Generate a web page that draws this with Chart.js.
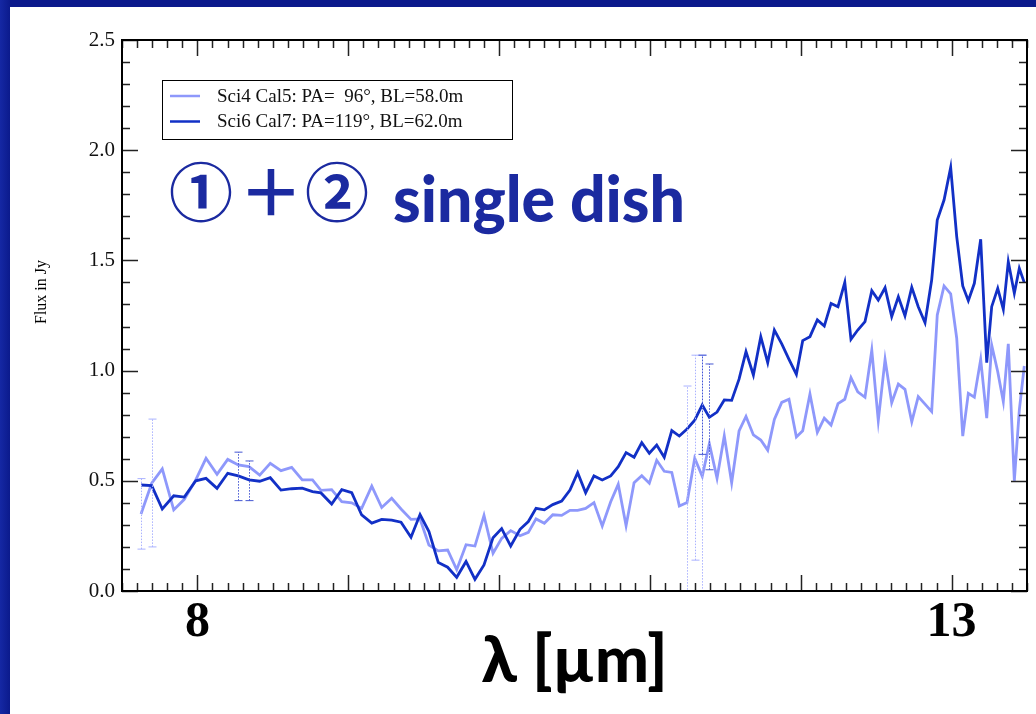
<!DOCTYPE html>
<html>
<head>
<meta charset="utf-8">
<script src="https://cdn.jsdelivr.net/npm/chart.js@4.4.0/dist/chart.umd.min.js"></script>
<style>
  html, body { margin: 0; padding: 0; }
  body { width: 1036px; height: 714px; overflow: hidden; position: relative;
         background: linear-gradient(90deg, #1528a4 0px, #0b1a8c 10px); }
  #wrap { position: absolute; left: 10px; top: 7px; width: 1026px; height: 707px; background: #fff; }
</style>
</head>
<body>
<div id="wrap"><canvas id="myChart" width="1026" height="707"></canvas></div>
<script>
// wavelength grid (micron), shared by both baselines
const wavelengths = [
  7.626, 7.697, 7.767, 7.843, 7.913, 7.989, 8.057, 8.130, 8.201, 8.271,
  8.342, 8.413, 8.483, 8.554, 8.625, 8.695, 8.763, 8.819, 8.890, 8.957,
  9.023, 9.089, 9.156, 9.222, 9.288, 9.350, 9.416, 9.476, 9.535, 9.597,
  9.659, 9.719, 9.781, 9.840, 9.900, 9.960, 10.017, 10.077, 10.139, 10.194,
  10.245, 10.300, 10.356, 10.415, 10.470, 10.521, 10.574, 10.629, 10.684, 10.740,
  10.790, 10.842, 10.895, 10.946, 10.996, 11.045, 11.095, 11.145, 11.195, 11.246,
  11.297, 11.347, 11.394, 11.445, 11.493, 11.542, 11.591, 11.637, 11.686, 11.735,
  11.781, 11.825, 11.874, 11.922, 11.971, 12.013, 12.061, 12.110, 12.156, 12.201,
  12.247, 12.292, 12.333, 12.378, 12.426, 12.471, 12.514, 12.559, 12.603, 12.647,
  12.691, 12.736, 12.779, 12.824, 12.868, 12.905, 12.950, 12.994, 13.034, 13.074,
  13.111, 13.151, 13.193, 13.233, 13.266, 13.306, 13.343, 13.376, 13.416, 13.449,
  13.482
];

const sci4Flux = [
  0.349, 0.489, 0.554, 0.368, 0.416, 0.504, 0.602, 0.529, 0.597, 0.572,
  0.564, 0.526, 0.579, 0.546, 0.561, 0.504, 0.504, 0.457, 0.460, 0.405,
  0.400, 0.375, 0.476, 0.379, 0.421, 0.372, 0.325, 0.327, 0.208, 0.182,
  0.186, 0.097, 0.210, 0.204, 0.343, 0.171, 0.239, 0.274, 0.251, 0.266,
  0.327, 0.307, 0.346, 0.343, 0.366, 0.366, 0.375, 0.401, 0.295, 0.405,
  0.484, 0.296, 0.491, 0.523, 0.489, 0.593, 0.543, 0.538, 0.386, 0.401,
  0.602, 0.520, 0.668, 0.512, 0.704, 0.491, 0.726, 0.792, 0.708, 0.685,
  0.639, 0.778, 0.856, 0.870, 0.699, 0.727, 0.894, 0.720, 0.784, 0.753,
  0.850, 0.870, 0.968, 0.904, 0.879, 1.093, 0.773, 1.051, 0.854, 0.939,
  0.915, 0.768, 0.882, 0.848, 0.814, 1.252, 1.384, 1.348, 1.147, 0.703,
  0.897, 0.879, 1.051, 0.784, 1.116, 0.995, 0.859, 1.121, 0.500, 0.821,
  1.021
];

const sci6Flux = [
  0.481, 0.478, 0.372, 0.432, 0.426, 0.500, 0.511, 0.466, 0.534, 0.522,
  0.504, 0.498, 0.514, 0.458, 0.464, 0.467, 0.451, 0.445, 0.395, 0.460,
  0.446, 0.345, 0.308, 0.325, 0.322, 0.312, 0.244, 0.347, 0.270, 0.129,
  0.108, 0.062, 0.134, 0.053, 0.118, 0.242, 0.283, 0.204, 0.280, 0.315,
  0.375, 0.368, 0.392, 0.408, 0.458, 0.537, 0.446, 0.522, 0.504, 0.522,
  0.564, 0.628, 0.607, 0.673, 0.625, 0.662, 0.607, 0.728, 0.703, 0.735,
  0.775, 0.844, 0.788, 0.812, 0.867, 0.865, 0.961, 1.086, 0.980, 1.154,
  1.036, 1.184, 1.121, 1.051, 0.983, 1.136, 1.154, 1.230, 1.202, 1.305,
  1.290, 1.400, 1.142, 1.184, 1.222, 1.363, 1.320, 1.376, 1.245, 1.335,
  1.249, 1.378, 1.290, 1.217, 1.411, 1.683, 1.774, 1.922, 1.608, 1.384,
  1.317, 1.396, 1.596, 1.036, 1.290, 1.373, 1.278, 1.494, 1.351, 1.464,
  1.399
];

// error bars (only a few are drawn in the original)
const sci4ErrAt = [7.626, 7.697, 11.246, 11.297, 11.347];
const sci4ErrLo = [0.19, 0.20, -0.13, 0.14, -0.03];
const sci4ErrHi = [0.51, 0.78, 0.93, 1.07, 1.07];
const sci6ErrAt = [8.271, 8.342, 11.347, 11.394];
const sci6ErrLo = [0.41, 0.41, 0.62, 0.55];
const sci6ErrHi = [0.63, 0.59, 1.07, 1.03];

const seriesLabels = ['Sci4 Cal5: PA=  96\u00b0, BL=58.0m', 'Sci6 Cal7: PA=119\u00b0, BL=62.0m'];
const seriesColors = ['#8e98fb', '#1230c6'];
const errColors = ['#aab2ff', '#4456d2'];

const yTicks = [0, 0.5, 1, 1.5, 2, 2.5];
const xTicks = [8, 9, 10, 11, 12, 13];
const xTickText = { 8: '8', 13: '13' };   // the other labels are hidden behind the overlay

const serif = '"Liberation Serif", "Times New Roman", serif';

const toPoints = (xs, ys) => xs.map((x, i) => ({ x: x, y: ys[i] }));

// box frame with inward ticks on all four sides
const frame = {
    id: 'frame',
    afterDatasetsDraw(chart) {
        const { ctx, chartArea: a, scales: { x, y } } = chart;
        ctx.save();
        ctx.strokeStyle = '#222';
        ctx.lineWidth = 1.5;
        ctx.beginPath();
        for (let i = 75; i <= 135; i++) {
            const px = Math.round(x.getPixelForValue(i / 10)) + 0.5;
            const len = i % 10 === 0 ? 16 : 8;
            ctx.moveTo(px, a.bottom); ctx.lineTo(px, a.bottom - len);
            ctx.moveTo(px, a.top); ctx.lineTo(px, a.top + len);
        }
        for (let j = 0; j <= 25; j++) {
            const py = Math.round(y.getPixelForValue(j / 10)) + 0.5;
            const len = j % 5 === 0 ? 16 : 8;
            ctx.moveTo(a.left, py); ctx.lineTo(a.left + len, py);
            ctx.moveTo(a.right, py); ctx.lineTo(a.right - len, py);
        }
        ctx.stroke();
        ctx.strokeStyle = '#000';
        ctx.lineWidth = 2;
        ctx.strokeRect(a.left, a.top, a.right - a.left, a.bottom - a.top);
        ctx.restore();
    }
};

const errorBars = {
    id: 'errorBars',
    afterDatasetsDraw(chart) {
        const { ctx, chartArea: a, scales: { x, y } } = chart;
        const sets = [[sci4ErrAt, sci4ErrLo, sci4ErrHi], [sci6ErrAt, sci6ErrLo, sci6ErrHi]];
        ctx.save();
        ctx.beginPath();
        ctx.rect(a.left, a.top, a.right - a.left, a.bottom - a.top);
        ctx.clip();
        sets.forEach((s, k) => {
            ctx.strokeStyle = errColors[k];
            s[0].forEach((w, i) => {
                const px = Math.round(x.getPixelForValue(w)) + 0.5;
                const lo = y.getPixelForValue(s[1][i]);
                const hi = y.getPixelForValue(s[2][i]);
                ctx.lineWidth = 1;
                ctx.setLineDash([1.5, 1.5]);
                ctx.beginPath();
                ctx.moveTo(px, lo); ctx.lineTo(px, hi);
                ctx.stroke();
                ctx.setLineDash([]);
                ctx.beginPath();
                ctx.moveTo(px - 4, lo); ctx.lineTo(px + 4, lo);
                ctx.moveTo(px - 4, hi); ctx.lineTo(px + 4, hi);
                ctx.stroke();
            });
        });
        ctx.restore();
    }
};

const decorations = {
    id: 'decorations',
    afterDraw(chart) {
        const { ctx, chartArea: a } = chart;
        ctx.save();
        // legend box
        const lx = a.left + 40, ly = a.top + 40;
        ctx.strokeStyle = '#000';
        ctx.lineWidth = 1;
        ctx.strokeRect(lx + 0.5, ly + 0.5, 350, 59);
        ctx.font = '19px ' + serif;
        ctx.textBaseline = 'middle';
        ctx.textAlign = 'left';
        seriesLabels.forEach((lab, i) => {
            const yy = ly + 16 + i * 25.5;
            ctx.strokeStyle = seriesColors[i];
            ctx.lineWidth = 2.5;
            ctx.beginPath();
            ctx.moveTo(lx + 8, yy); ctx.lineTo(lx + 38, yy);
            ctx.stroke();
            ctx.fillStyle = '#111';
            ctx.fillText(lab, lx + 55, yy + 1);
        });

        // big overlay caption
        ctx.fillStyle = '#1b2aa0';
        ctx.font = 'bold 64px "Noto Sans CJK JP"';
        ctx.textBaseline = 'middle';
        ctx.fillText('\u2460', 159, 185);
        ctx.fillText('\uff0b', 229, 185);
        ctx.fillText('\u2461', 295, 185);
        ctx.font = '900 64px Lato';
        ctx.textBaseline = 'alphabetic';
        ctx.fillText('single dish', 383, 215, 292);

        // axis titles
        ctx.fillStyle = '#000';
        ctx.font = '900 64px Lato';
        ctx.textAlign = 'center';
        ctx.fillText('\u03bb [\u00b5m]', (a.left + a.right) / 2, 675);

        ctx.font = '16px ' + serif;
        ctx.translate(32, 285);
        ctx.rotate(-Math.PI / 2);
        ctx.textBaseline = 'middle';
        ctx.fillText('Flux in Jy', 0, 0);
        ctx.restore();
    }
};

document.addEventListener('DOMContentLoaded', () => {
    const ctx = document.getElementById('myChart').getContext('2d');

    new Chart(ctx, {
        type: 'line',
        data: {
            datasets: [{
                label: seriesLabels[0],
                data: toPoints(wavelengths, sci4Flux),
                borderColor: seriesColors[0],
                borderWidth: 2.8,
                pointRadius: 0,
                order: 1
            }, {
                label: seriesLabels[1],
                data: toPoints(wavelengths, sci6Flux),
                borderColor: seriesColors[1],
                borderWidth: 2.8,
                pointRadius: 0,
                order: 0
            }]
        },
        options: {
            responsive: false,
            animation: false,
            layout: { padding: { top: 33, right: 9, left: 0, bottom: 0 } },
            plugins: {
                legend: { display: false },
                tooltip: { enabled: false }
            },
            scales: {
                x: {
                    type: 'linear',
                    min: 7.5,
                    max: 13.5,
                    grid: { display: false, drawTicks: false },
                    border: { display: false },
                    afterBuildTicks: (s) => { s.ticks = xTicks.map(v => ({ value: v })); },
                    afterFit: (s) => { s.height = 123; },
                    ticks: {
                        autoSkip: false,
                        maxRotation: 0,
                        padding: 2,
                        color: '#000',
                        font: { family: serif, size: 50, weight: 'bold' },
                        callback: (v) => xTickText[v] || ''
                    }
                },
                y: {
                    min: 0,
                    max: 2.5,
                    grid: { display: false, drawTicks: false },
                    border: { display: false },
                    afterBuildTicks: (s) => { s.ticks = yTicks.map(v => ({ value: v })); },
                    afterFit: (s) => { s.width = 112; },
                    ticks: {
                        padding: 7,
                        color: '#111',
                        font: { family: serif, size: 21 },
                        callback: (v) => v.toFixed(1)
                    }
                }
            }
        },
        plugins: [errorBars, frame, decorations]
    });
});
</script>
</body>
</html>
